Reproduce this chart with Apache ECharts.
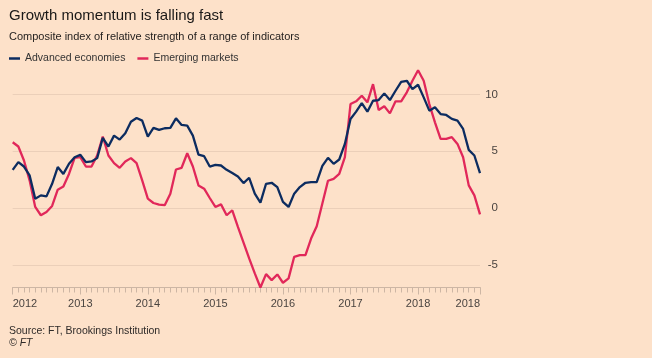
<!DOCTYPE html>
<html>
<head>
<meta charset="utf-8">
<script src="https://cdn.jsdelivr.net/npm/echarts@6/dist/echarts.min.js"></script>
<style>
html,body{margin:0;padding:0;background:#fde1c9;}
#chart{width:652px;height:358px;}
</style>
</head>
<body>
<div id="chart"></div>
<script>
// Monthly index 0 = Jan 2012 ... 83 = last observation
const yearLabels = ['2012','2013','2014','2015','2016','2017','2018','2018'];
const yearTickPositions = [0,12,24,36,48,60,72,83];
const yTicks = [-5,0,5,10];

const advanced = [3.36,4.04,3.65,2.87,0.82,1.11,1.02,2.13,3.6,3.0,
  3.9,4.47,4.68,4.04,4.1,4.39,6.17,5.41,6.37,6.02,
  6.58,7.6,7.92,7.69,6.29,7.05,6.87,7.02,7.05,7.89,
  7.31,7.25,6.37,4.7,4.56,3.65,3.8,3.74,3.36,3.07,
  2.78,2.19,2.66,1.26,0.47,2.13,2.22,1.84,0.53,0.09,
  1.26,1.84,2.22,2.28,2.28,3.7,4.42,3.89,4.27,5.64,
  7.84,8.48,9.24,8.48,9.44,9.5,10.09,9.5,10.32,11.11,
  11.2,10.47,10.85,9.74,8.57,8.86,8.27,8.19,7.84,7.69,
  6.96,5.12,4.62,3.07];

const emerging = [5.79,5.41,4.18,2.43,0.09,-0.64,-0.35,0.18,1.61,1.9,
  3.0,4.42,4.47,3.65,3.65,4.62,6.29,4.62,3.95,3.54,
  4.09,4.39,3.95,2.43,0.82,0.44,0.29,0.25,1.26,3.39,
  3.54,4.82,3.65,1.99,1.7,0.88,0.09,0.32,-0.64,-0.2,
  -1.67,-3.04,-4.44,-5.76,-7.0,-5.82,-6.35,-5.85,-6.58,-6.2,
  -4.3,-4.15,-4.15,-2.69,-1.6,0.4,2.4,2.57,3.0,4.47,
  9.15,9.39,9.88,9.3,10.9,8.63,8.95,8.33,9.39,9.39,
  10.18,11.2,12.13,11.2,9.15,7.54,6.08,6.08,6.23,5.64,
  4.47,1.99,1.11,-0.56];

const FONT = '"Liberation Sans", Arial, sans-serif';
const AXIS_COLOR = '#cdb6a4';
const TEXT_COLOR = '#4a4440';

const chart = echarts.init(document.getElementById('chart'), null, {renderer: 'canvas'});
const toPairs = arr => arr.map((v, i) => [i, v]);

chart.setOption({
  backgroundColor: '#fde1c9',
  animation: false,
  textStyle: {fontFamily: FONT},
  title: {
    text: 'Growth momentum is falling fast',
    subtext: 'Composite index of relative strength of a range of indicators',
    left: 9, top: 8, padding: 0, itemGap: 8,
    textStyle: {fontFamily: FONT, fontSize: 15, fontWeight: 'normal', color: '#1a1817'},
    subtextStyle: {fontFamily: FONT, fontSize: 11, color: '#262220'}
  },
  legend: {
    left: 9, top: 53, padding: 0, itemGap: 12,
    itemWidth: 11, itemHeight: 2.5, icon: 'rect',
    textStyle: {fontFamily: FONT, fontSize: 10.5, color: '#333'},
    data: ['Advanced economies', 'Emerging markets']
  },
  grid: {left: 12.7, right: 172, top: 66, bottom: 70.5, containLabel: false},
  xAxis: [{
    type: 'value', min: 0, max: 83,
    axisLine: {show: true, onZero: false, lineStyle: {color: AXIS_COLOR, width: 1}},
    axisTick: {show: true, length: 7, customValues: yearTickPositions, lineStyle: {color: AXIS_COLOR}},
    axisLabel: {
      customValues: yearTickPositions,
      formatter: v => yearLabels[yearTickPositions.indexOf(v)] || '',
      color: TEXT_COLOR, fontSize: 11, margin: 11, fontFamily: FONT,
      alignMinLabel: 'left', alignMaxLabel: 'right'
    },
    splitLine: {show: false}
  }, {
    type: 'value', min: 0, max: 83, interval: 1, position: 'bottom',
    axisLine: {show: false, onZero: false},
    axisTick: {show: true, length: 5, lineStyle: {color: AXIS_COLOR}},
    axisLabel: {show: false},
    splitLine: {show: false}
  }],
  yAxis: {
    type: 'value', min: -7, max: 12.5, position: 'right',
    axisLine: {show: false},
    axisTick: {show: false, customValues: yTicks},
    axisLabel: {customValues: yTicks, color: TEXT_COLOR, fontSize: 11.5, align: 'right', margin: 18, fontFamily: FONT},
    splitLine: {show: true, lineStyle: {color: '#ebcfb9', width: 1}}
  },
  series: [{
    name: 'Advanced economies', type: 'line', data: toPairs(advanced),
    showSymbol: false, symbol: 'none',
    lineStyle: {color: '#0c2c60', width: 2.3}, itemStyle: {color: '#0c2c60'}, z: 3
  }, {
    name: 'Emerging markets', type: 'line', data: toPairs(emerging),
    showSymbol: false, symbol: 'none',
    lineStyle: {color: '#e1285a', width: 2.3}, itemStyle: {color: '#e1285a'}, z: 2
  }],
  graphic: [{
    type: 'text', left: 9, top: 326,
    style: {text: 'Source: FT, Brookings Institution', font: '10.5px ' + FONT, fill: '#2f2b29'}
  }, {
    type: 'text', left: 9, top: 338,
    style: {text: '© FT', font: 'italic 10.5px ' + FONT, fill: '#2f2b29'}
  }]
});
</script>
</body>
</html>
